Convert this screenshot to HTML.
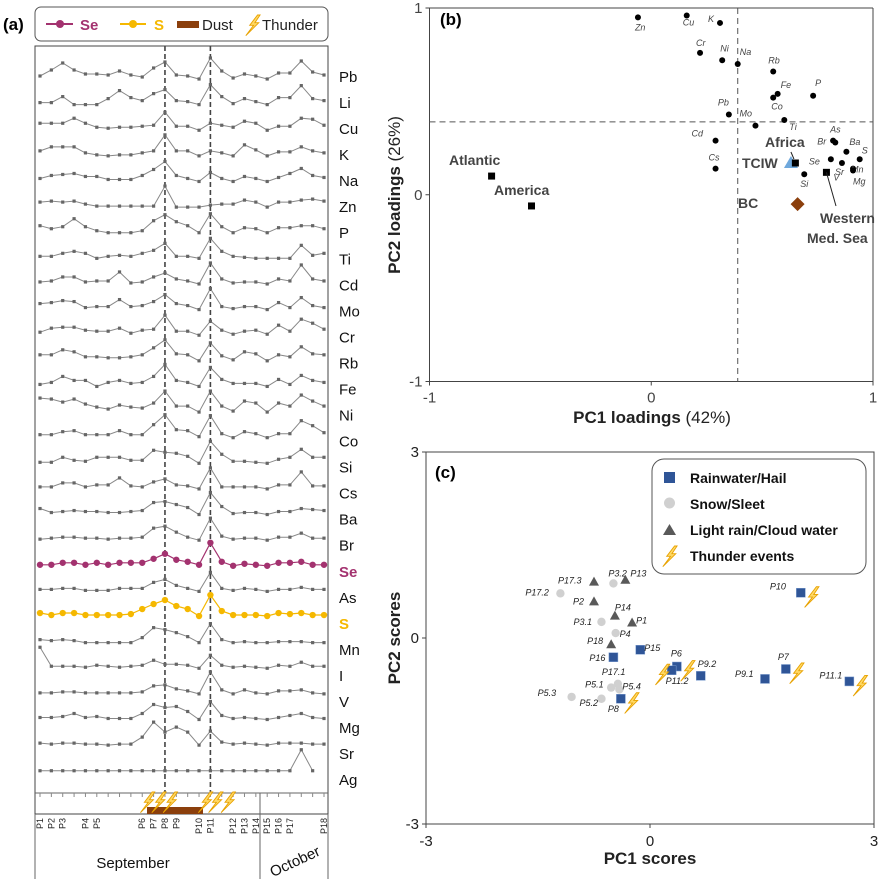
<!DOCTYPE html>
<html><head><meta charset="utf-8">
<style>
html,body{margin:0;padding:0;background:#fff;}
svg{display:block;font-family:"Liberation Sans",Arial,sans-serif;}
</style></head>
<body>
<svg id="fig" width="880" height="879" viewBox="0 0 880 879" xmlns="http://www.w3.org/2000/svg">
<defs>
<g id="bolt"><polygon points="6.5,-9 -1.3,1.3 2.6,1.3 -5.2,11.7 7.8,-1.3 3.9,-1.3 9.1,-9" fill="#ffd966" stroke="#e8a200" stroke-width="0.9"/></g>
</defs>
<text x="3" y="30" font-size="17" font-weight="bold" fill="#000">(a)</text>
<g>
<rect x="35" y="7" width="293" height="34" rx="6" fill="#fff" stroke="#555" stroke-width="1"/>
<line x1="46" y1="24" x2="73" y2="24" stroke="#a3326f" stroke-width="2"/><circle cx="60" cy="24" r="4" fill="#a3326f"/>
<text x="80" y="30" font-size="15" font-weight="bold" fill="#a3326f">Se</text>
<line x1="120" y1="24" x2="146" y2="24" stroke="#f5b800" stroke-width="2"/><circle cx="133" cy="24" r="4" fill="#f5b800"/>
<text x="154" y="30" font-size="15" font-weight="bold" fill="#f5b800">S</text>
<rect x="177" y="21" width="22" height="7" fill="#8b3f0c"/>
<text x="202" y="30" font-size="15" fill="#222">Dust</text>
<use href="#bolt" x="251" y="24"/>
<text x="262" y="30" font-size="15" fill="#222">Thunder</text>
</g>
<rect x="35" y="46" width="293" height="768" fill="none" stroke="#444" stroke-width="1"/>
<line x1="35" y1="814" x2="35" y2="879" stroke="#666"/>
<line x1="328" y1="814" x2="328" y2="879" stroke="#666"/>
<line x1="35" y1="793" x2="328" y2="793" stroke="#666"/>
<line x1="260" y1="793" x2="260" y2="879" stroke="#666"/>
<rect x="147" y="807" width="56" height="7" fill="#8b3f0c"/>
<text x="133" y="868" font-size="15" text-anchor="middle" fill="#111">September</text>
<text x="297" y="866" font-size="15" text-anchor="middle" fill="#111" transform="rotate(-25 297 866)">October</text>
<g id="aMarks"></g>
<g id="bPanel"></g>
<g id="cPanel"></g>
</svg>
<script>
// ---------- Panel (a) data ----------
const elements=["Pb","Li","Cu","K","Na","Zn","P","Ti","Cd","Mo","Cr","Rb","Fe","Ni","Co","Si","Cs","Ba","Br","Se","As","S","Mn","I","V","Mg","Sr","Ag"];
const samplesA=26;
const valPb=[3,9,16,9,5,5,4,8,4,2,11,17,4,3,0,21,8,1,5,3,0,6,6,18,7,4];
const valLi=[2,2,8,0,0,0,6,14,7,4,11,15,4,3,0,20,8,1,6,3,0,7,7,19,6,4];
const valCu=[7,7,7,12,7,3,2,3,3,4,5,18,4,4,0,7,5,3,9,7,0,4,4,12,11,5];
const valK=[5,9,9,9,3,1,0,1,1,3,5,21,5,5,0,5,3,0,11,6,0,4,4,9,5,3];
const valNa=[3,6,7,8,5,5,2,2,2,6,12,20,6,3,0,9,3,0,5,3,0,4,8,13,6,4];
const valZn=[5,6,5,6,3,1,1,1,1,1,1,21,0,0,0,2,3,3,7,5,0,5,5,7,8,6];
const valP=[7,4,6,14,6,2,0,0,0,2,12,18,11,7,0,19,6,0,5,4,0,5,5,7,7,4];
const valTi=[2,2,5,7,5,0,2,3,2,5,8,15,2,2,0,20,7,2,1,0,0,0,0,13,3,5];
const valCd=[2,3,7,7,2,3,3,12,1,2,7,11,5,3,0,21,5,1,2,2,0,5,3,19,5,3];
const valMo=[6,7,9,8,2,3,3,10,3,4,8,15,6,4,0,21,3,1,3,3,0,7,2,12,4,2];
const valCr=[3,7,8,8,5,4,4,7,2,5,6,20,4,4,0,14,5,1,4,5,1,10,4,16,12,6];
const valRb=[6,6,11,9,4,4,3,3,4,6,13,21,7,6,0,18,5,1,9,7,0,6,4,14,7,6];
const valFe=[2,4,10,6,6,0,4,6,3,4,10,22,6,4,0,19,7,3,3,3,0,7,2,11,6,4];
const valNi=[14,13,10,13,8,5,3,7,5,4,9,21,6,6,0,21,6,1,11,9,0,9,6,17,11,6];
const valCo=[3,3,6,7,3,3,3,7,3,3,13,23,8,7,1,22,4,0,6,4,0,4,4,17,12,5];
const valSi=[1,1,6,3,2,6,6,6,3,3,13,11,10,7,0,22,9,2,2,1,0,4,6,14,6,6];
const valCs=[2,2,6,6,2,4,4,11,3,2,7,10,4,3,0,21,2,2,2,2,0,4,4,17,3,3];
const valBa=[6,2,3,4,3,3,2,2,3,4,12,13,10,7,0,22,8,1,2,2,0,3,3,6,5,4];
const valBr=[1,2,3,3,2,2,1,2,2,3,12,14,8,3,0,22,4,1,2,2,0,3,3,7,2,2];
const valSe=[1,1,3,3,1,3,1,3,3,3,7,12,6,4,1,23,4,0,2,1,0,3,3,4,1,1];
const valAs=[2,2,3,3,1,1,1,3,3,3,9,12,6,3,0,19,3,1,3,2,0,2,2,4,2,2];
const valS=[4,2,4,4,2,2,2,2,3,8,13,17,11,8,1,22,6,2,2,2,1,4,3,4,2,2];
const valMn=[3,2,3,2,0,0,0,0,0,5,15,13,10,6,0,19,3,0,1,0,0,1,1,1,0,0];
const valI=[21,2,2,2,1,3,2,1,2,3,8,4,4,3,0,13,3,1,2,1,0,3,2,6,2,2];
const valV=[1,1,2,2,1,1,1,1,1,2,8,9,5,3,0,22,4,0,4,1,0,3,3,4,1,0];
const valMg=[2,2,3,6,2,3,1,1,1,6,15,12,13,8,0,18,4,1,2,1,0,2,4,6,2,1];
const valSr=[2,1,2,2,1,1,0,1,1,8,23,13,18,13,0,14,3,1,2,1,0,2,2,2,1,1];
const valAg=[0,0,0,0,0,0,0,0,0,0,0,0,0,0,0,0,0,0,0,0,0,0,0,21,0,null];
const seriesA=[valPb,valLi,valCu,valK,valNa,valZn,valP,valTi,valCd,valMo,valCr,valRb,valFe,valNi,valCo,valSi,valCs,valBa,valBr,valSe,valAs,valS,valMn,valI,valV,valMg,valSr,valAg];
const sampleLabels=["P1","P2","P3","","P4","P5","","","","P6","P7","P8","P9","","P10","P11","","P12","P13","P14","P15","P16","P17","","","P18"];
const thunderIdxA=[9.3,10.3,11.3,14.4,15.3,16.4];
const dashedIdx=[11,15];

// ---------- Panel (b) data ----------
const loadNames=["Zn","Cu","K","Cr","Ni","Na","Rb","Fe","Co","P","Pb","Mo","Ti","Cd","Cs","As","Br","Ba","S","Se","Sr","Mn","Mg","Si","V"];
const loadPC1=[-0.06,0.16,0.31,0.22,0.32,0.39,0.55,0.57,0.55,0.73,0.35,0.47,0.60,0.29,0.29,0.82,0.83,0.88,0.94,0.81,0.86,0.91,0.91,0.69,0.79];
const loadPC2=[0.95,0.96,0.92,0.76,0.72,0.70,0.66,0.54,0.52,0.53,0.43,0.37,0.40,0.29,0.14,0.29,0.28,0.23,0.19,0.19,0.17,0.14,0.13,0.11,0.12];
const srcNames=["Atlantic","America","Africa","Western Med. Sea"];
const srcPC1=[-0.72,-0.54,0.65,0.79];
const srcPC2=[0.10,-0.06,0.17,0.12];
const tciwPC=[0.63,0.17];
const bcPC=[0.66,-0.05];
const thresholdB=0.39;

// ---------- Panel (c) data ----------
const scoreNames=["P17.3","P3.2","P13","P17.2","P2","P14","P3.1","P1","P4","P18","P16","P15","P6","P11.2","P9.2","P9.1","P7","P11.1","P10","P17.1","P5.1","P5.4","P5.3","P5.2","P8"];
const scorePC1=[-0.75,-0.49,-0.33,-1.20,-0.75,-0.47,-0.65,-0.24,-0.46,-0.52,-0.49,-0.13,0.36,0.29,0.68,1.54,1.82,2.67,2.02,-0.43,-0.52,-0.41,-1.05,-0.65,-0.39];
const scorePC2=[0.91,0.88,0.94,0.72,0.59,0.36,0.26,0.25,0.08,-0.10,-0.31,-0.19,-0.46,-0.52,-0.61,-0.66,-0.50,-0.70,0.73,-0.74,-0.80,-0.83,-0.95,-0.98,-0.98];
const scoreType=["tri","circ","tri","circ","tri","tri","circ","tri","circ","tri","sq","sq","sq","sq","sq","sq","sq","sq","sq","circ","circ","circ","circ","circ","sq"];
const scoreThunder=["P10","P7","P11.1","P6","P11.2","P8"];

const NS="http://www.w3.org/2000/svg";
function mk(tag,attrs,parent){const e=document.createElementNS(NS,tag);for(const k in attrs)e.setAttribute(k,attrs[k]);parent.appendChild(e);return e;}

// ===== Panel a =====
const gA=document.getElementById('aMarks');
const xA=i=>40+i*11.36;
const baseA=r=>79+r*25.62;
const labA=r=>77+r*26.04;
dashedIdx.forEach(i=>{
 const l=mk('line',{x1:xA(i),y1:46,x2:xA(i),y2:793,stroke:'#444','stroke-width':1.6,'stroke-dasharray':'5,3'},gA);
 
 
});
seriesA.forEach((vals,r)=>{
 const name=elements[r];
 const col=name==='Se'?'#a3326f':name==='S'?'#f5b800':'#888';
 const dot=name==='Se'?'#a3326f':name==='S'?'#f5b800':'#666';
 const g=mk('g',{},gA);
 
 
 let pts=[];
 vals.forEach((v,i)=>{if(v!==null)pts.push(xA(i).toFixed(1)+','+(baseA(r)-v).toFixed(1));});
 mk('polyline',{points:pts.join(' '),fill:'none',stroke:col,'stroke-width':(name==='Se'||name==='S')?1.2:1},g);
 vals.forEach((v,i)=>{
  if(v===null)return;
  const x=xA(i),y=baseA(r)-v;
  let m;
  if(name==='Se'||name==='S') m=mk('circle',{cx:x,cy:y,r:3.2,fill:dot},g);
  else m=mk('rect',{x:x-1.6,y:y-1.6,width:3.2,height:3.2,fill:dot},g);
  
  
 });
 const t=mk('text',{x:339,y:labA(r)+5,'font-size':15,fill:name==='Se'?'#a3326f':name==='S'?'#f5b800':'#111','font-weight':(name==='Se'||name==='S')?'bold':'normal'},gA);
 t.textContent=name;
 
 
});
for(let i=0;i<samplesA;i++){
 mk('line',{x1:xA(i),y1:793,x2:xA(i),y2:797,stroke:'#888'},gA);
 if(sampleLabels[i]){
  const t=mk('text',{x:0,y:0,'font-size':9,fill:'#222','text-anchor':'end',transform:`translate(${xA(i)+3},${818}) rotate(-90)`},gA);
  t.textContent=sampleLabels[i];
  
  
 }
}
thunderIdxA.forEach(i=>{
 const u=mk('use',{href:'#bolt',x:xA(i),y:801},gA);
 
 
});

// ===== Panel b =====
const gB=document.getElementById('bPanel');
const bx0=429.5,bx1=873,by0=8,by1=381.5;
const xB=v=>bx0+(v+1)/2*(bx1-bx0);
const yB=v=>by1-(v+1)/2*(by1-by0);
let t;
mk('line',{x1:bx0,y1:by0,x2:bx0,y2:by1,stroke:'#444'},gB);
mk('line',{x1:bx0,y1:by1,x2:bx1,y2:by1,stroke:'#444'},gB);
mk('line',{x1:bx0,y1:by0,x2:bx1,y2:by0,stroke:'#444'},gB);
mk('line',{x1:bx1,y1:by0,x2:bx1,y2:by1,stroke:'#444'},gB);
[-1,0,1].forEach(v=>{
 mk('line',{x1:xB(v),y1:by1,x2:xB(v),y2:by1+4,stroke:'#444'},gB);
 t=mk('text',{x:xB(v),y:by1+21,'font-size':15,'text-anchor':'middle',fill:'#444'},gB);t.textContent=v;
 
 
 mk('line',{x1:bx0-4,y1:yB(v),x2:bx0,y2:yB(v),stroke:'#444'},gB);
 t=mk('text',{x:bx0-7,y:yB(v)+5,'font-size':15,'text-anchor':'end',fill:'#444'},gB);t.textContent=v;
 
 
});
mk('line',{x1:xB(thresholdB),y1:by0,x2:xB(thresholdB),y2:by1,stroke:'#555','stroke-dasharray':'6,4'},gB);
mk('line',{x1:bx0,y1:yB(thresholdB),x2:bx1,y2:yB(thresholdB),stroke:'#555','stroke-dasharray':'6,4'},gB);
t=mk('text',{x:440,y:25,'font-size':17,'font-weight':'bold'},gB);t.textContent='(b)';


t=mk('text',{x:652,y:423,'font-size':17,'text-anchor':'middle',fill:'#222'},gB);
t.innerHTML='<tspan font-weight="bold">PC1 loadings</tspan> (42%)';


t=mk('text',{x:0,y:0,'font-size':17,'text-anchor':'middle',fill:'#222',transform:'translate(400,195) rotate(-90)'},gB);
t.innerHTML='<tspan font-weight="bold">PC2 loadings</tspan> (26%)';


const lblOff={Zn:[-3,13],Cu:[-4,10],K:[-12,-1],Cr:[-4,-7],Ni:[-2,-9],Na:[2,-9],Rb:[-5,-8],Fe:[3,-6],Co:[-2,12],P:[2,-10],Pb:[-11,-9],Mo:[-16,-9],Ti:[5,10],Cd:[-24,-4],Cs:[-7,-8],As:[-3,-8],Br:[-18,2],Ba:[3,-7],S:[2,-6],Se:[-22,5],Sr:[-7,12],Mn:[-2,4],Mg:[0,14],Si:[-4,13],V:[7,8]};
loadNames.forEach((n,i)=>{
 const x=xB(loadPC1[i]),y=yB(loadPC2[i]);
 if(n!=='V'){const c=mk('circle',{cx:x,cy:y,r:3,fill:'#000'},gB);
 
 }
 const o=lblOff[n]||[3,-4];
 const tt=mk('text',{x:x+o[0],y:y+o[1],'font-size':9,'font-style':'italic',fill:'#444'},gB);tt.textContent=n;
 
 
});
{const x=xB(tciwPC[0]),y=yB(tciwPC[1]);
 const p=mk('polygon',{points:`${x},${y-7} ${x-7},${y+5} ${x+7},${y+5}`,fill:'#6fa8dc'},gB);
 
 }
{const x=xB(bcPC[0]),y=yB(bcPC[1]);
 const p=mk('polygon',{points:`${x},${y-7} ${x+7},${y} ${x},${y+7} ${x-7},${y}`,fill:'#8b3f0c'},gB);
 
 }
srcPC1.forEach((v,i)=>{
 const x=xB(v),y=yB(srcPC2[i]);
 const r=mk('rect',{x:x-3.5,y:y-3.5,width:7,height:7,fill:'#000'},gB);
 
 
});
mk('line',{x1:xB(tciwPC[0])+3,y1:yB(srcPC2[2])-4,x2:xB(tciwPC[0]),y2:152,stroke:'#222'},gB);
mk('line',{x1:xB(srcPC1[3]),y1:yB(srcPC2[3]),x2:836,y2:206,stroke:'#222'},gB);
const srcLbl=[["Atlantic",449,165,'start'],["America",494,195,'start'],["Africa",765,147,'start'],["TCIW",742,168,'start'],["BC",738,208,'start'],["Western",820,223,'start'],["Med. Sea",807,243,'start']];
srcLbl.forEach(s=>{const tt=mk('text',{x:s[1],y:s[2],'font-size':14,'font-weight':'bold',fill:'#444','text-anchor':s[3]},gB);tt.textContent=s[0];
 
 });

// ===== Panel c =====
const gC=document.getElementById('cPanel');
const cx0=426,cx1=874,cy0=452,cy1=824;
const xC=v=>cx0+(v+3)/6*(cx1-cx0);
const yC=v=>cy1-(v+3)/6*(cy1-cy0);
mk('rect',{x:cx0,y:cy0,width:cx1-cx0,height:cy1-cy0,fill:'none',stroke:'#444'},gC);
[-3,0,3].forEach(v=>{
 mk('line',{x1:xC(v),y1:cy1,x2:xC(v),y2:cy1+4,stroke:'#444'},gC);
 t=mk('text',{x:xC(v),y:cy1+22,'font-size':15,'text-anchor':'middle',fill:'#222'},gC);t.textContent=v;
 
 
 mk('line',{x1:cx0-4,y1:yC(v),x2:cx0,y2:yC(v),stroke:'#444'},gC);
 t=mk('text',{x:cx0-7,y:yC(v)+5,'font-size':15,'text-anchor':'end',fill:'#222'},gC);t.textContent=v;
 
 
});
t=mk('text',{x:435,y:478,'font-size':17,'font-weight':'bold'},gC);t.textContent='(c)';


t=mk('text',{x:650,y:864,'font-size':17,'font-weight':'bold','text-anchor':'middle',fill:'#222'},gC);t.textContent='PC1 scores';


t=mk('text',{x:0,y:0,'font-size':17,'font-weight':'bold','text-anchor':'middle',fill:'#222',transform:'translate(400,638) rotate(-90)'},gC);t.textContent='PC2 scores';


const lg=mk('g',{},gC);


mk('rect',{x:652,y:459,width:214,height:115,rx:12,fill:'#fff',stroke:'#555'},lg);
mk('rect',{x:664,y:472,width:11,height:11,fill:'#2f5597'},lg);
mk('circle',{cx:669.5,cy:503,r:5.5,fill:'#d0d0d0'},lg);
mk('polygon',{points:'669.5,524 663,535 676,535',fill:'#595959'},lg);
mk('use',{href:'#bolt',x:668,y:555},lg);
[["Rainwater/Hail",483],["Snow/Sleet",509],["Light rain/Cloud water",535],["Thunder events",561]].forEach(a=>{
 const tt=mk('text',{x:690,y:a[1],'font-size':14,'font-weight':'bold',fill:'#111'},lg);tt.textContent=a[0];
});
const lblC={"P17.3":[-36,2],"P3.2":[-5,-7],"P13":[5,-3],"P17.2":[-35,2],"P2":[-21,3],"P14":[0,-5],"P3.1":[-28,3],"P1":[4,1],"P4":[4,4],"P18":[-24,0],"P16":[-24,4],"P15":[4,1],"P6":[-6,-10],"P11.2":[-6,14],"P9.2":[-3,-9],"P9.1":[-30,-2],"P7":[-8,-9],"P11.1":[-30,-3],"P10":[-31,-3],"P17.1":[-16,-9],"P5.1":[-26,0],"P5.4":[3,0],"P5.3":[-34,-1],"P5.2":[-22,7],"P8":[-13,13]};
scoreNames.forEach((n,i)=>{
 const x=xC(scorePC1[i]),y=yC(scorePC2[i]);
 let m;
 if(scoreType[i]==='sq') m=mk('rect',{x:x-4.5,y:y-4.5,width:9,height:9,fill:'#2f5597',stroke:'#7f9fd0','stroke-width':0.5},gC);
 else if(scoreType[i]==='circ') m=mk('circle',{cx:x,cy:y,r:4.2,fill:'#d0d0d0'},gC);
 else m=mk('polygon',{points:`${x},${y-5} ${x-5},${y+4} ${x+5},${y+4}`,fill:'#595959'},gC);
 
 
 const o=lblC[n]||[4,0];
 const tt=mk('text',{x:x+o[0],y:y+o[1],'font-size':9,'font-style':'italic',fill:'#222'},gC);tt.textContent=n;
 
 
 if(scoreThunder.includes(n)){
  const dx=n==='P11.2'?-11:9;
  const u=mk('use',{href:'#bolt',x:x+dx,y:y+3},gC);
  
  
 }
});
</script>
</body></html>
